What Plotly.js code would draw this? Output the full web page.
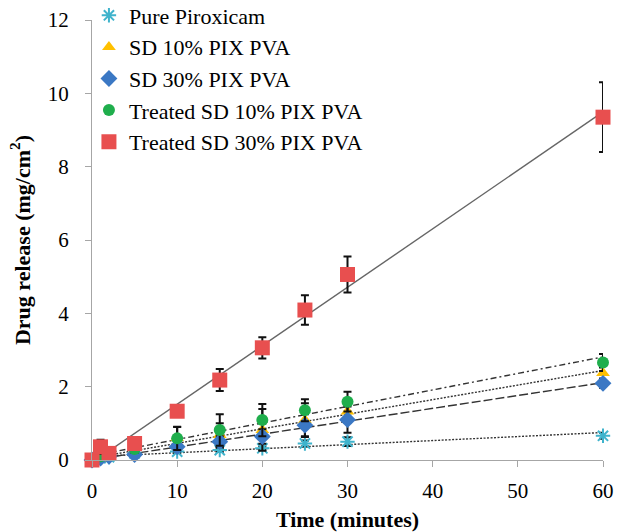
<!DOCTYPE html>
<html>
<head>
<meta charset="utf-8">
<script src="https://cdn.plot.ly/plotly-3.0.1.min.js"></script>
<style>
html,body{margin:0;padding:0;background:#fff;}
#chart{width:621px;height:532px;}
</style>
</head>
<body>
<div id="chart"></div>
<script>
// Data
const time = [0, 1, 2, 5, 10, 15, 20, 25, 30, 60];

const pure    = [0, 0.05, 0.08, 0.18, 0.23, 0.27, 0.32, 0.45, 0.50, 0.66];
const pureErr = [0, 0.02, 0.02, 0.03, 0.04, 0.05, 0.05, 0.08, 0.12, 0.08];

const sd10    = [0, 0.03, 0.08, 0.25, 0.60, 0.68, 0.82, 1.09, 1.32, 2.37];
const sd10Err = [0, 0.03, 0.05, 0.08, 0.30, 0.32, 0.57, 0.46, 0.30, 0.15];

const sd30    = [0, 0.05, 0.10, 0.15, 0.36, 0.50, 0.64, 0.95, 1.10, 2.09];
const sd30Err = [0, 0.02, 0.03, 0.05, 0.10, 0.15, 0.20, 0.30, 0.36, 0.12];

const tr10    = [0, 0.10, 0.15, 0.30, 0.59, 0.82, 1.09, 1.36, 1.59, 2.66];
const tr10Err = [0, 0.05, 0.05, 0.10, 0.32, 0.43, 0.44, 0.30, 0.27, 0.23];

const tr30    = [0, 0.36, 0.18, 0.45, 1.33, 2.18, 3.06, 4.09, 5.06, 9.35];
const tr30Err = [0, 0.19, 0.08, 0.10, 0.10, 0.30, 0.29, 0.40, 0.49, 0.95];

const names = ["Pure Piroxicam", "SD 10% PIX PVA", "SD 30% PIX PVA",
               "Treated SD 10% PIX PVA", "Treated SD 30% PIX PVA"];
const xTicks = [0, 10, 20, 30, 40, 50, 60];
const yTicks = [0, 2, 4, 6, 8, 10, 12];

// Linear least-squares trendline (like Excel)
function fit(xs, ys) {
  const n = xs.length;
  const mx = xs.reduce((a, b) => a + b, 0) / n;
  const my = ys.reduce((a, b) => a + b, 0) / n;
  let sxy = 0, sxx = 0;
  for (let i = 0; i < n; i++) { sxy += (xs[i] - mx) * (ys[i] - my); sxx += (xs[i] - mx) ** 2; }
  const m = sxy / sxx, b = my - m * mx;
  const x0 = Math.min(...xs), x1 = Math.max(...xs);
  return { x: [x0, x1], y: [m * x0 + b, m * x1 + b] };
}

const series = [
  { y: pure, e: pureErr, name: names[0], marker: { symbol: "asterisk-open", size: 12, color: "#3fb3cc", line: { color: "#3fb3cc", width: 2 } }, dash: "2px,1.5px" },
  { y: sd10, e: sd10Err, name: names[1], marker: { symbol: "triangle-up", size: 12, color: "#ffc000" }, dash: "2px,1.5px" },
  { y: sd30, e: sd30Err, name: names[2], marker: { symbol: "diamond", size: 13, color: "#3b78c4" }, dash: "9px,3px" },
  { y: tr10, e: tr10Err, name: names[3], marker: { symbol: "circle", size: 12, color: "#1fae4c" }, dash: "6px,3px,2px,3px" },
  { y: tr30, e: tr30Err, name: names[4], marker: { symbol: "square", size: 15, color: "#e84f4f" }, dash: "solid" }
];

const traces = [];
series.forEach(s => {
  const f = fit(time, s.y);
  traces.push({
    x: f.x, y: f.y, mode: "lines", showlegend: false, hoverinfo: "skip",
    line: { color: s.dash === "solid" ? "#666666" : "#333333", width: 1.4, dash: s.dash }
  });
});
series.forEach(s => {
  traces.push({
    x: time, y: s.y, name: s.name, mode: "markers", type: "scatter",
    cliponaxis: false,
    marker: s.marker,
    error_y: { type: "data", array: s.e, visible: true, color: "#111111", thickness: 2, width: 4 }
  });
});

const serif = "Liberation Serif";
const layout = {
  width: 621, height: 532,
  margin: { l: 92, r: 18, t: 20, b: 72, autoexpand: false },
  paper_bgcolor: "#ffffff", plot_bgcolor: "#ffffff",
  font: { family: serif, color: "#000" },
  showlegend: true,
  legend: {
    x: -0.006, y: 1.058, xanchor: "left", yanchor: "top",
    bgcolor: "rgba(0,0,0,0)", font: { family: serif, size: 22, color: "#000" }
  },
  xaxis: {
    range: [0, 60], tickvals: xTicks, ticktext: xTicks.map(String),
    showgrid: false, zeroline: false, showline: true, linecolor: "#a6a6a6", linewidth: 1,
    ticks: "outside", ticklen: 6, tickcolor: "#a6a6a6", ticklabelstandoff: 6,
    tickfont: { family: serif, size: 21, color: "#000" },
    title: { text: "<b>Time (minutes)</b>", font: { family: serif, size: 22, color: "#000" }, standoff: 10 }
  },
  yaxis: {
    range: [0, 12], tickvals: yTicks, ticktext: yTicks.map(String),
    showgrid: false, zeroline: false, showline: true, linecolor: "#a6a6a6", linewidth: 1,
    ticks: "outside", ticklen: 6, tickcolor: "#a6a6a6", ticklabelstandoff: 12,
    tickfont: { family: serif, size: 21, color: "#000" },
    title: { text: "<b>Drug release (mg/cm<sup>2</sup>)</b>", font: { family: serif, size: 22, color: "#000" }, standoff: 11 }
  }
};

Plotly.newPlot("chart", traces, layout, { displayModeBar: false, staticPlot: true });
</script>
</body>
</html>
